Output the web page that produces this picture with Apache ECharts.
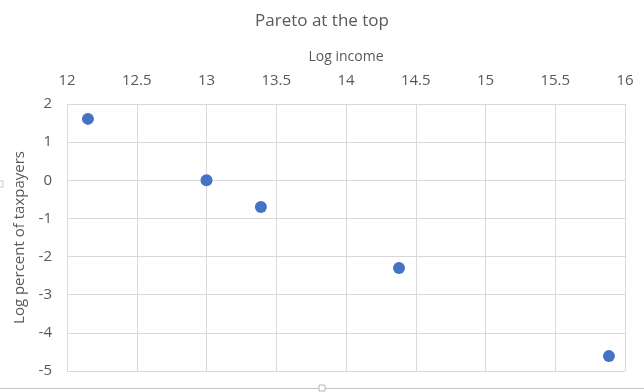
<!DOCTYPE html>
<html><head><meta charset="utf-8">
<script src="https://cdn.jsdelivr.net/npm/echarts@6/dist/echarts.min.js"></script>
<style>html,body{margin:0;padding:0;background:#fff}#c{width:644px;height:392px}</style>
</head><body><div id="c"></div>
<script>
const logIncome = [12.15, 13.0, 13.39, 14.38, 15.885];
const logPercent = [1.61, 0.0, -0.70, -2.30, -4.61];
const title = 'Pareto at the top';
const xName = 'Log income';
const yName = 'Log percent of taxpayers';

const points = logIncome.map((x, i) => [x, logPercent[i]]);
const chart = echarts.init(document.getElementById('c'));
const font = 'Open Sans, Liberation Sans, sans-serif';
chart.setOption({
  animation: false,
  title: {text: title, left: 'center', top: 8, textStyle: {fontFamily: font, fontSize: 17, fontWeight: 'normal', color: '#595959'}},
  grid: {left: 67, right: 19, top: 104, bottom: 21},
  graphic: [
    {type: 'line', shape: {x1: 0, y1: 388.5, x2: 644, y2: 388.5}, style: {stroke: '#c4c4c4', lineWidth: 1}, silent: true},
    {type: 'rect', shape: {x: 319, y: 385, width: 6, height: 6}, style: {fill: '#fff', stroke: '#b8b8b8', lineWidth: 1}, silent: true},
    {type: 'rect', shape: {x: -3, y: 181, width: 6, height: 6}, style: {fill: '#fff', stroke: '#c8c8c8', lineWidth: 1}, silent: true}
  ],
  xAxis: {
    type: 'value', position: 'top', min: 12, max: 16, interval: 0.5,
    name: xName, nameLocation: 'middle', nameGap: 40,
    nameTextStyle: {fontFamily: font, fontSize: 14, color: '#595959'},
    axisLine: {show: false}, axisTick: {show: false},
    axisLabel: {fontFamily: font, fontSize: 15, color: '#595959', margin: 16},
    splitLine: {show: true, lineStyle: {color: '#d9d9d9', width: 1}}
  },
  yAxis: {
    type: 'value', min: -5, max: 2, interval: 1,
    name: yName, nameLocation: 'middle', nameGap: 36,
    nameTextStyle: {fontFamily: font, fontSize: 15, color: '#595959'},
    axisLine: {show: true, lineStyle: {color: '#d9d9d9'}}, axisTick: {show: false},
    axisLabel: {fontFamily: font, fontSize: 15, color: '#595959', margin: 15},
    splitLine: {show: true, lineStyle: {color: '#d9d9d9', width: 1}}
  },
  series: [{type: 'scatter', data: points, symbolSize: 12, itemStyle: {color: '#4472C4', opacity: 1}}]
});
</script></body></html>
